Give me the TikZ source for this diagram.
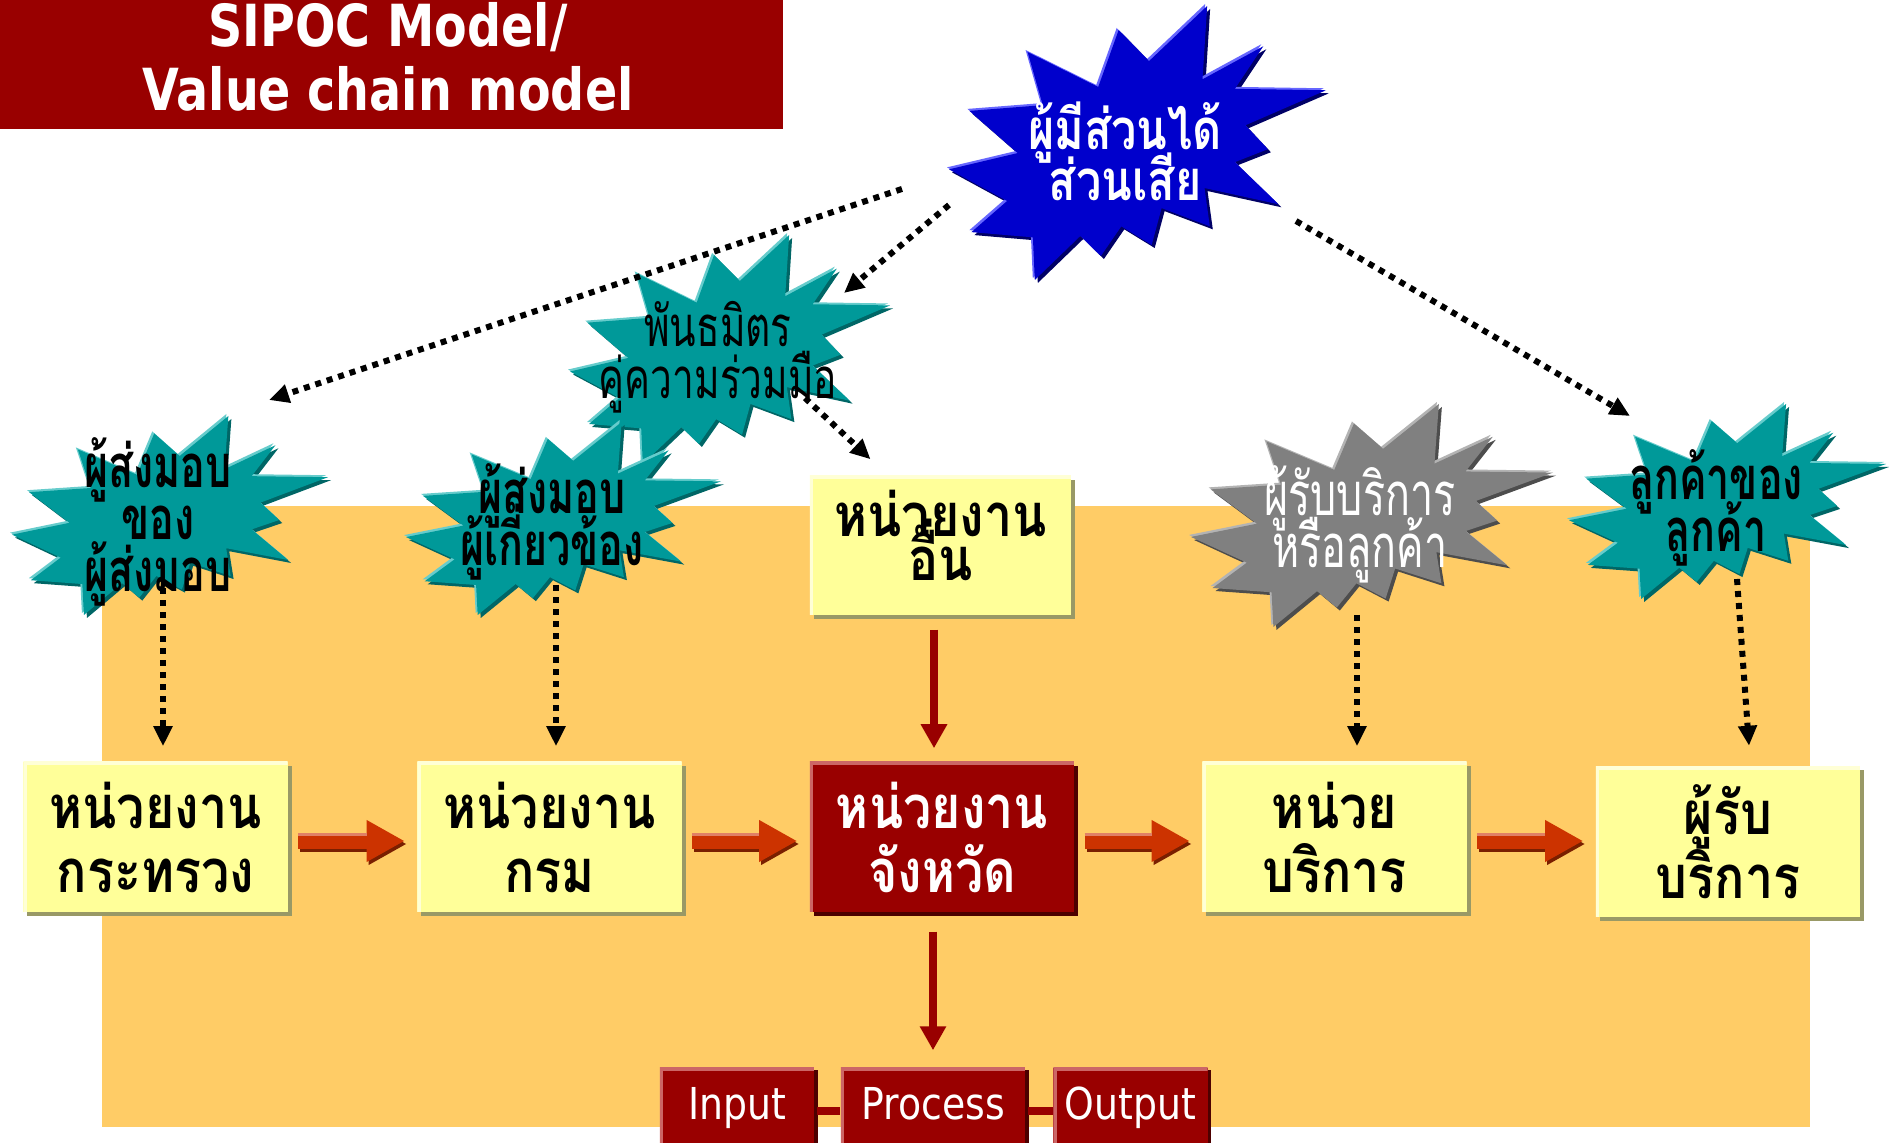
\documentclass[tikz,border=0pt]{standalone}
\usepackage{fontspec}
\usetikzlibrary{arrows.meta,shadows,calc}

\newfontfamily\thaibox[Script=Thai,FakeStretch=0.84]{Loma}
\newfontfamily\thaicond[Script=Thai,FakeStretch=0.69]{Loma}
\newfontfamily\thaiwide[Script=Thai,FakeStretch=0.8]{Loma}
\newfontfamily\tahfont[FakeStretch=0.86]{DejaVu Sans}
\newfontfamily\tahbold[FakeStretch=0.82]{DejaVu Sans}
% fixed line pitch, even for lines carrying tall tone marks
\newcommand\tight{\lineskiplimit=-100pt\lineskip=0pt\relax}

\definecolor{titlered}{HTML}{990000}
\definecolor{bgorange}{HTML}{FFCC66}
\definecolor{boxyellow}{HTML}{FFFF99}
\definecolor{boxlight}{HTML}{FFFFD6}
\definecolor{boxshade}{HTML}{999966}
\definecolor{redlight}{HTML}{CC6666}
\definecolor{redshade}{HTML}{4D0000}
\definecolor{arrowred}{HTML}{CC3300}
\definecolor{arrowlight}{HTML}{E08066}
\definecolor{arrowshade}{HTML}{7A1F00}
\definecolor{tealmain}{HTML}{009999}
\definecolor{teallight}{HTML}{66CCCC}
\definecolor{tealdark}{HTML}{006666}
\definecolor{bluemain}{HTML}{0000CC}
\definecolor{bluelight}{HTML}{6666FF}
\definecolor{bluedark}{HTML}{000066}
\definecolor{graymain}{HTML}{808080}
\definecolor{graylight}{HTML}{B3B3B3}
\definecolor{graydark}{HTML}{4D4D4D}

\tikzset{
  % explosion outline on a 100 x 100 grid
  burst/.pic={\path[pic actions] (53.06,20.10) -- (68.47,0) -- (67.25,26.75) -- (83.37,14.69)
    -- (75.83,30.24) -- (100,30.76) -- (78.63,43.53) -- (84.58,52.27) -- (75.83,56.99)
    -- (87.39,72.37) -- (67.78,66.44) -- (69.18,80.42) -- (56.39,73.77) -- (53.76,87.23)
    -- (45.70,80.42) -- (40.28,91.26) -- (34.85,83.91) -- (22.76,100) -- (22.25,84.44)
    -- (5.95,82.52) -- (15.42,71.16) -- (0,59.62) -- (18.22,53.67) -- (5.43,38.29)
    -- (24.87,36.19) -- (20.84,16.78) -- (39.58,29.55) -- (45.01,8.74) -- cycle;},
  unitbox/.style={minimum width=2.64cm, minimum height=1.5cm, inner sep=0pt, align=center,
    font=\thaibox\bfseries\fontsize{17}{18.2}\selectfont\tight},
  ybox/.style={unitbox, fill=boxyellow, text=black,
    drop shadow={shadow xshift=0.04cm, shadow yshift=-0.04cm, fill=boxshade, opacity=1},
    path picture={\draw[line width=0.07cm, boxlight] (path picture bounding box.south west)
      |- (path picture bounding box.north east);}},
  rbox/.style={unitbox, fill=titlered, text=white,
    drop shadow={shadow xshift=0.04cm, shadow yshift=-0.04cm, fill=redshade, opacity=1},
    path picture={\draw[line width=0.07cm, redlight] (path picture bounding box.south west)
      |- (path picture bounding box.north east);}},
  iobox/.style={fill=titlered, text=white, minimum height=0.85cm, inner sep=0pt,
    text height=0.34cm, text depth=0.17cm,
    font=\tahfont\fontsize{12.5}{14}\selectfont,
    drop shadow={shadow xshift=0.035cm, shadow yshift=-0.02cm, fill=redshade, opacity=1},
    path picture={\draw[line width=0.07cm, redlight] (path picture bounding box.south west)
      |- (path picture bounding box.north east);}},
  startext/.style={align=center, inner sep=0pt,
    font=\thaicond\bfseries\fontsize{17}{14.8}\selectfont\tight},
  dotarrow/.style={line width=0.06cm, dash pattern=on 0.06cm off 0.06cm,
    -{Triangle[length=0.2cm,width=0.18cm]}},
  redarrow/.style={line width=0.08cm, titlered, -{Triangle[length=0.24cm,width=0.25cm]}},
  blockarr/.style={line width=0.15cm, arrowred, -{Triangle[length=0.38cm,width=0.39cm]}},
  blockshade/.style={line width=0.15cm, arrowshade, -{Triangle[length=0.38cm,width=0.39cm]}},
  blocklight/.style={line width=0.03cm, arrowlight},
  ioline/.style={line width=0.08cm, titlered}
}

% three layered copies give the embossed look of a burst
\newcommand\burstshape[7]{%
  \pic[fill=#7, xscale=#3/100, yscale=#4/100] at (#1+3,#2+3) {burst};
  \pic[fill=#5, xscale=#3/100, yscale=#4/100] at (#1-2,#2-2) {burst};
  \pic[fill=#6, xscale=#3/100, yscale=#4/100] at (#1,#2) {burst};
}

\begin{document}
\begin{tikzpicture}[x=0.01cm, y=-0.01cm]
\useasboundingbox (0,0) rectangle (1890,1143);
\clip (0,0) rectangle (1890,1143);

% backdrop
\fill[bgorange] (102,506) rectangle (1810,1127);

% heading
\node[fill=titlered, minimum width=7.83cm, minimum height=1.29cm, inner sep=0pt] (ttl) at (391.5,64.5) {};
\node[text=white, align=center, inner sep=0pt,
  font=\tahbold\bfseries\fontsize{16.5}{18.2}\selectfont] (ttltext) at (388,57) {SIPOC Model/\\Value chain model};

% value chain
\node[ybox] (b1) at (155.5,837) {หน่วยงาน\\กระทรวง};
\node[ybox] (b2) at (549.5,837) {หน่วยงาน\\กรม};
\node[rbox] (b3) at (942,837) {หน่วยงาน\\จังหวัด};
\node[ybox] (b4) at (1334.5,837) {หน่วย\\บริการ};
\node[ybox] (b5) at (1728,841.5) {ผู้รับ\\บริการ};
\node[ybox, minimum width=2.61cm, minimum height=1.39cm] (oth) at (940.5,545.5) {};
\node[align=center, inner sep=0pt,
  font=\thaibox\bfseries\fontsize{17}{12.5}\selectfont\tight] (othtext) at (940.5,535.5) {หน่วยงาน\\อื่น};

\foreach \a/\b in {b1/b2,b2/b3,b3/b4,b4/b5}{
  \draw[blockshade] ($(\a.east)+(12,7)$) -- ($(\b.west |- \a.east)+(-10,7)$);
  \draw[blockarr] ($(\a.east)+(10,4)$) -- ($(\b.west |- \a.east)+(-12,4)$);
  \draw[blocklight] ($(\a.east)+(10,-2.5)$) -- ($(\b.west |- \a.east)+(-50,-2.5)$);
}

% input / process / output
\node[iobox, minimum width=1.54cm] (inp) at (737,1110.5) {Input};
\node[iobox, minimum width=1.84cm] (prc) at (933,1110.5) {Process};
\node[iobox, minimum width=1.54cm] (out) at (1130.5,1110.5) {Output};
\draw[ioline] ([shift={(2,0)}]inp.east) -- (prc.west);
\draw[ioline] ([shift={(2,0)}]prc.east) -- (out.west);

\draw[redarrow] ([shift={(-6.5,14)}]oth.south) -- ([shift={(-8,-13)}]b3.north);
\draw[redarrow] ([shift={(-9,19)}]b3.south) -- ([shift={(0,-17)}]prc.north);

% bursts
\burstshape{570}{235}{320}{229}{teallight}{tealmain}{tealdark}
\node[startext, font=\thaicond\fontsize{16}{14.8}\selectfont\tight] (ally) at (718,357) {พันธมิตร\\คู่ความร่วมมือ};
\burstshape{406}{422}{315}{193}{teallight}{tealmain}{tealdark}
\node[startext] (sup2) at (552,522) {ผู้ส่งมอบ\\ผู้เกี่ยวข้อง};
\burstshape{12}{416}{316}{199}{teallight}{tealmain}{tealdark}
\node[startext] (sup1) at (158,522) {ผู้ส่งมอบ\\ของ\\ผู้ส่งมอบ};
\burstshape{1191}{404}{362}{223}{graylight}{graymain}{graydark}
\node[startext, text=white, font=\thaicond\fontsize{17}{14.8}\selectfont\tight] (cust) at (1360,524) {ผู้รับบริการ\\หรือลูกค้า};
\burstshape{1569}{404}{317}{195}{teallight}{tealmain}{tealdark}
\node[startext] (ccust) at (1716,508) {ลูกค้าของ\\ลูกค้า};
\burstshape{949}{6}{377}{274}{bluelight}{bluemain}{bluedark}
\node[startext, text=white, font=\thaiwide\bfseries\fontsize{16}{14.5}\selectfont\tight] (stake) at (1125,151) {ผู้มีส่วนได้\\ส่วนเสีย};

% stakeholder links
\coordinate (far) at (269,400);
\draw[dotarrow] ([shift={(-223,38)}]stake.center) -- (far);
\draw[dotarrow] ([shift={(-176,54)}]stake.center) -- ([shift={(126,-64)}]ally.center);
\draw[dotarrow] ([shift={(87,41)}]ally.center) -- ([shift={(-70,-16)}]oth.north);
\draw[dotarrow] ([shift={(171,70)}]stake.center) -- ([shift={(-86,-92)}]ccust.center);
\draw[dotarrow] ([shift={(5,66)}]sup1.center) -- ([shift={(7.5,-15)}]b1.north);
\draw[dotarrow] ([shift={(4,63)}]sup2.center) -- ([shift={(6.5,-15)}]b2.north);
\draw[dotarrow] ([shift={(-3,91)}]cust.center) -- ([shift={(22.5,-15)}]b4.north);
\draw[dotarrow] ([shift={(21,71)}]ccust.center) -- ([shift={(21,-20)}]b5.north);
\end{tikzpicture}
\end{document}
